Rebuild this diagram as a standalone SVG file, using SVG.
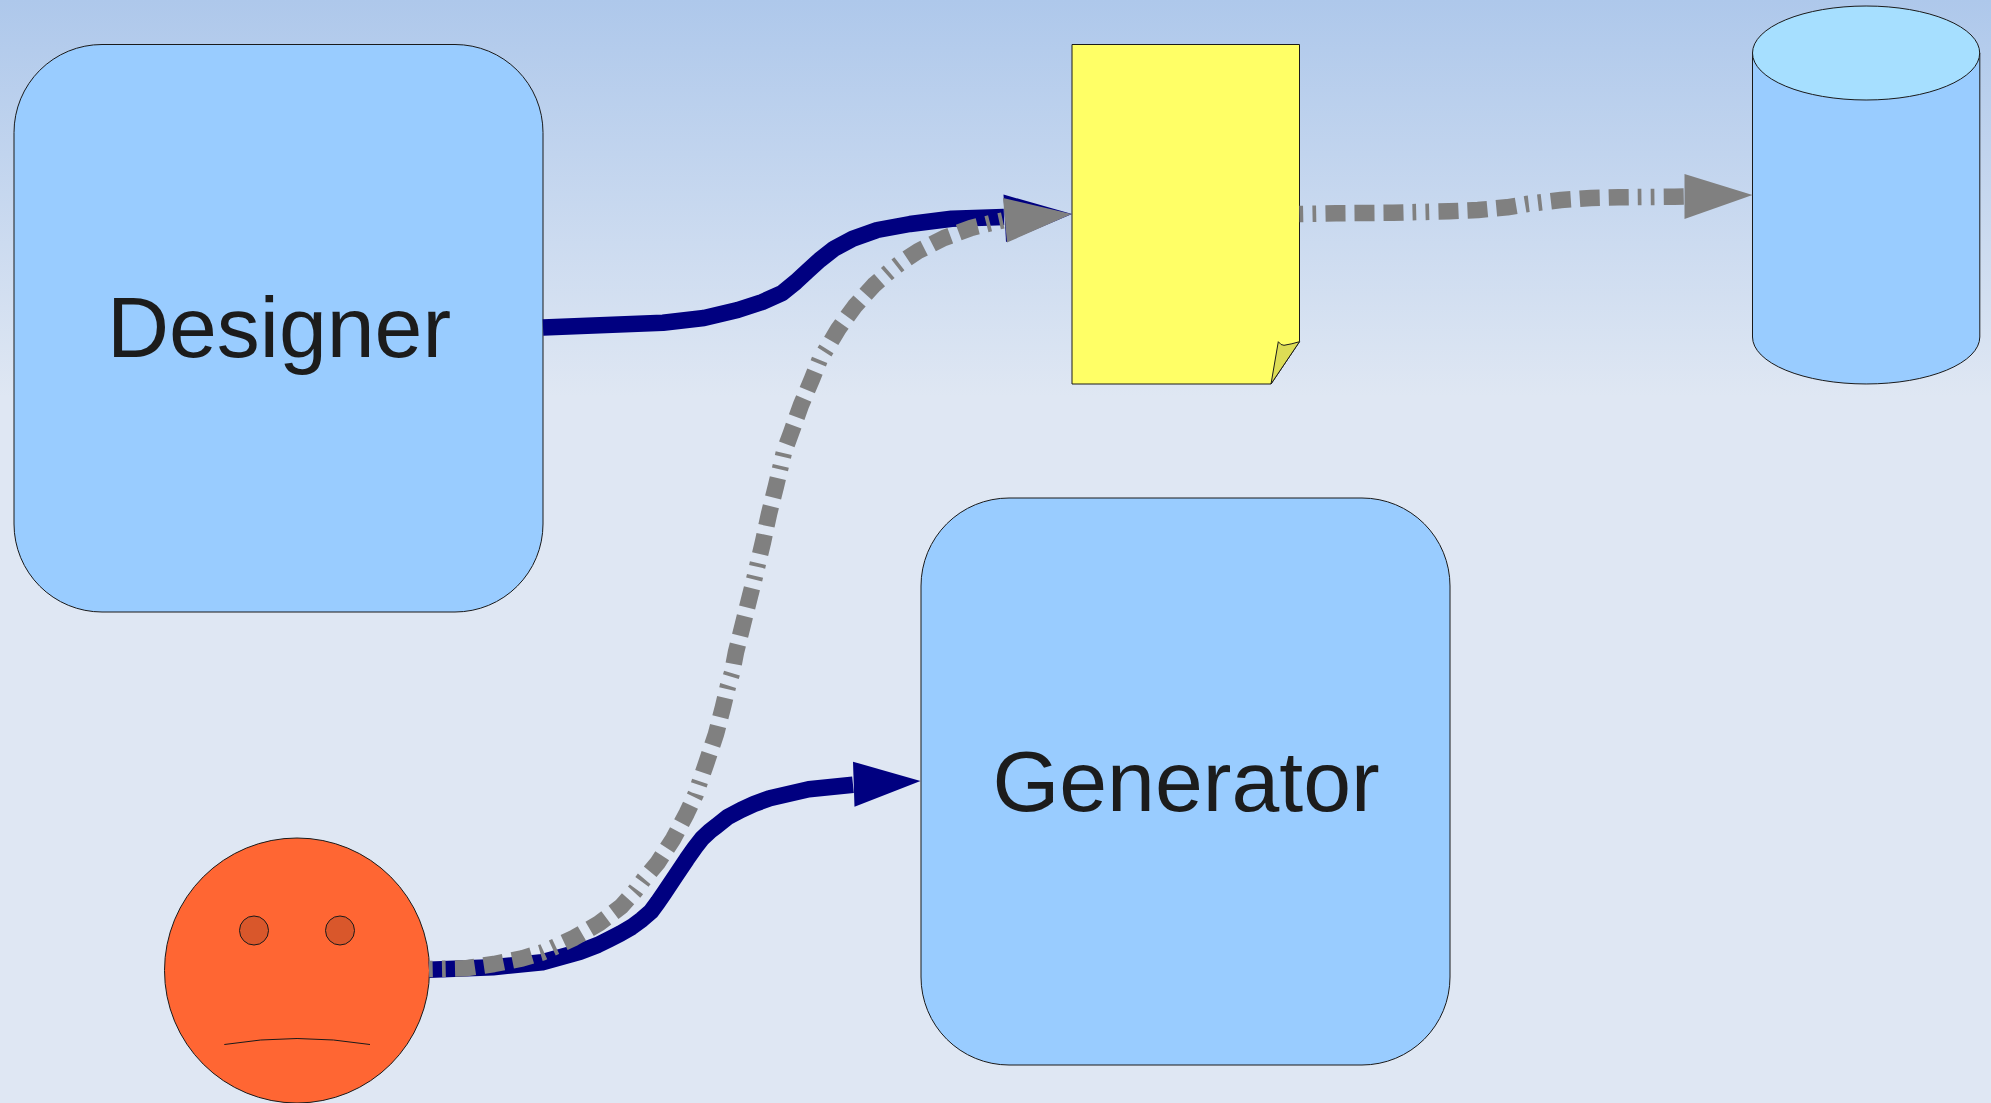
<svg xmlns="http://www.w3.org/2000/svg" width="1991" height="1103" viewBox="0 0 1991 1103">
<style>
.shape{stroke:#1a1a1a;stroke-width:1}
.box{fill:#99ccff}
.label{font-family:"Liberation Sans",Arial,sans-serif;font-size:86px;fill:#1c1c1c;text-anchor:middle}
.flow{fill:none;stroke-width:16.5;stroke-linejoin:round}
.blue{stroke:#000080}
.grey{stroke:#808080;stroke-dasharray:3.7 9.3 3.7 9.3 20 9 20 9 20 9}
.hblue{fill:#000080}
.hgrey{fill:#808080}
</style>
<defs>
<linearGradient id="bg" x1="0" y1="0" x2="0" y2="1">
<stop offset="0" stop-color="#aec8eb"/>
<stop offset="0.36" stop-color="#dfe7f3"/>
<stop offset="1" stop-color="#dfe7f3"/>
</linearGradient>
</defs>
<rect width="1991" height="1103" fill="url(#bg)"/>
<g id="designer">
<rect class="shape box" x="14" y="44.5" width="529" height="567.5" rx="88" ry="88"/>
<text class="label" x="279" y="357">Designer</text>
</g>
<g id="generator">
<rect class="shape box" x="921" y="498" width="529" height="567" rx="88" ry="88"/>
<text class="label" x="1186" y="811">Generator</text>
</g>
<g id="document">
<path class="shape" fill="#ffff66" d="M1072 44.5H1299.5V341.7L1271 384H1072Z"/>
<path class="shape" fill="#dddd55" d="M1271 384L1278.3 341.7Q1281 345.5 1284 345.3Q1292 344 1299.5 341.7Z"/>
</g>
<g id="database">
<path class="shape box" d="M1752.5 53V337A113.6 47 0 0 0 1979.8 337V53Z"/>
<ellipse class="shape" fill="#a6dfff" cx="1866.1" cy="53" rx="113.6" ry="47"/>
</g>
<g id="face">
<circle class="shape" fill="#ff6633" cx="297" cy="970.5" r="132.5"/>
<circle class="shape" fill="#d9572b" cx="254" cy="930.5" r="14.5"/>
<circle class="shape" fill="#d9572b" cx="340" cy="930.5" r="14.5"/>
<path class="shape" fill="none" d="M224.3 1044.5Q297 1032.5 370 1044.5"/>
</g>
<g id="connectors">
<polyline class="flow blue" points="543,327.5 663,322.7 704,318 737.7,310 762.3,302 781.7,293.3 795.7,282 807.3,271.3 819.7,260 834,248.7 852.7,238.7 877.3,230 910,224 951.7,218.7 1004,217"/>
<polygon class="hblue" points="1003.5,194.5 1072,214 1006,242"/>
<polyline class="flow blue" points="429,969.7 493,967.3 542.3,962.3 580,951.7 597.7,945 609,939.3 620.7,933.3 631.7,927 642,919.3 651,911.5 658,902 664,893.3 675.7,875.7 686.7,859.3 695,847.5 702,838.5 710,831 717,825.7 727.3,817.3 741,810 754,804 769.7,798.3 808.7,789.3 853,784.7"/>
<polygon class="hblue" points="853,761.7 920.5,781 854.5,806.7"/>
<polyline class="flow grey" points="429,969 465,968.3 494,964 522.3,958.3 542.7,952.3 555,946.7 574.3,937.7 599,923.3 621,906.7 636,890 643.3,880 657.7,862.7 673.3,838.7 686.7,813.3 695.7,794.3 700,781.3 706,764 716,734 723,707 728,686 732,673 736,652 743,624 750,596 755,576 758,563 763,542 769,514 776,486 781,465 784,452 791,433 801,405 812,379 820,359 827,348 838.3,329 855,306 874,285 890,271 900.7,262.7 918.3,251 944,238 971,228 991,223 1005,220"/>
<polygon class="hgrey" points="1003,198 1071.5,214 1007,242.5"/>
<polyline class="flow grey" points="1299.5,214 1336,213.3 1393,212.7 1449,211.3 1478,210 1507,207.3 1527,204 1561,200 1591,198 1619,197.3 1674.5,196.7 1685,196.5"/>
<polygon class="hgrey" points="1684.5,174 1752.5,195 1684.5,219"/>
</g>
</svg>
